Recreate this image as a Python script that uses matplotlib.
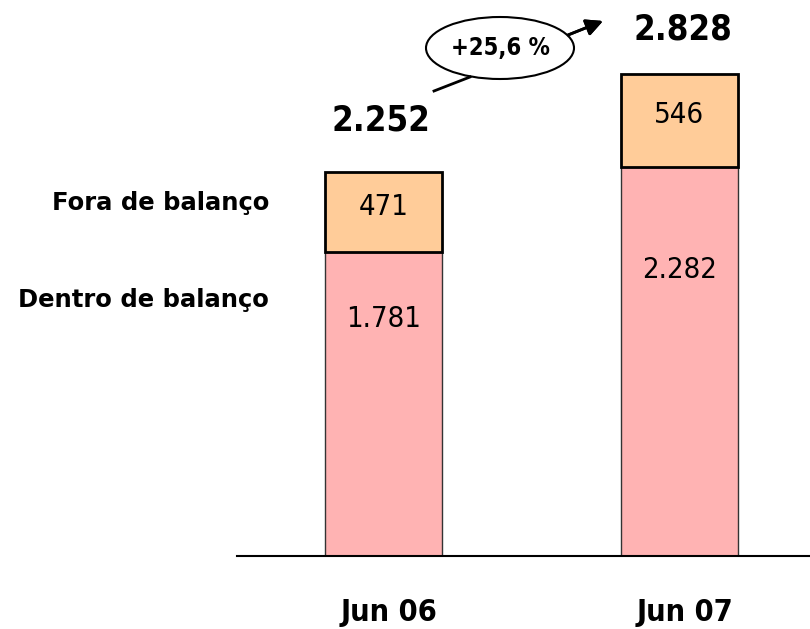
import matplotlib.pyplot as plt
from matplotlib.patches import Ellipse

# values (millions)
periods = ['Jun 06', 'Jun 07']
dentro = [1781, 2282]
fora = [471, 546]
dentro_labels = ['1.781', '2.282']
fora_labels = ['471', '546']
total_labels = ['2.252', '2.828']
growth_label = '+25,6 %'
series_names = ['Fora de balanço', 'Dentro de balanço']

num_kw = dict(family='DejaVu Sans', stretch='condensed')
lbl_font = ['DejaVu Sans']

W, H = 810, 629
fig = plt.figure(figsize=(W / 100, H / 100), dpi=100)

def fx(px):
    return px / W

def fy(py):
    return 1 - py / H

ax = fig.add_axes([fx(237), fy(556), 1 - fx(237), fy(0) - fy(556)])
ax.set_xlim(-0.495, 1.441)
ax.set_ylim(0, 3261)

x = list(range(len(periods)))
width = 0.395
ax.bar(x, dentro, width, color='#FFB3B3', edgecolor='#333333', linewidth=1.0)
ax.bar(x, fora, width, bottom=dentro, color='#FFCC99', edgecolor='black', linewidth=2.0)

# position of the lower label inside each pink segment
lower_frac = [0.78, 0.735]
for i in x:
    tot = dentro[i] + fora[i]
    ax.text(i, dentro[i] + fora[i] * 0.56, fora_labels[i], ha='center', va='center',
            fontsize=21, **num_kw)
    ax.text(i, dentro[i] * lower_frac[i], dentro_labels[i], ha='center', va='center',
            fontsize=21, **num_kw)
    ax.text(i - 0.01 + 0.02 * i, tot + [305, 258][i], total_labels[i], ha='center', va='center',
            fontsize=25, fontweight='bold', **num_kw)
    ax.text(i + 0.02, -330, periods[i], ha='center', va='center',
            fontsize=22, fontweight='bold', clip_on=False, **num_kw)

for s in ['top', 'right', 'left']:
    ax.spines[s].set_visible(False)
ax.spines['bottom'].set_linewidth(1.5)
ax.set_xticks([])
ax.set_yticks([])

# series names on the left
fig.text(fx(269), fy(203), series_names[0], ha='right', va='center',
         fontsize=17.5, fontweight='bold', family=lbl_font)
fig.text(fx(269), fy(300), series_names[1], ha='right', va='center',
         fontsize=17.5, fontweight='bold', family=lbl_font)

# growth bubble with arrow
ell = Ellipse((fx(500), fy(48)), fx(148), 62 / H, transform=fig.transFigure,
              facecolor='white', edgecolor='black', linewidth=1.5)
fig.patches.append(ell)
fig.text(fx(500), fy(48), growth_label, ha='center', va='center',
         fontsize=17, fontweight='bold', **num_kw)
fig.add_artist(plt.Line2D([fx(434), fx(470)], [fy(91), fy(77)], color='black',
                          linewidth=2, transform=fig.transFigure))
fig.add_artist(plt.annotate('', xy=(fx(603), fy(21)), xytext=(fx(568), fy(35)),
                            xycoords='figure fraction', textcoords='figure fraction',
                            arrowprops=dict(arrowstyle='-|>,head_length=1.0,head_width=0.5',
                                            color='black', lw=2, shrinkA=0, shrinkB=0)))

fig.savefig('out.png', dpi=100)
